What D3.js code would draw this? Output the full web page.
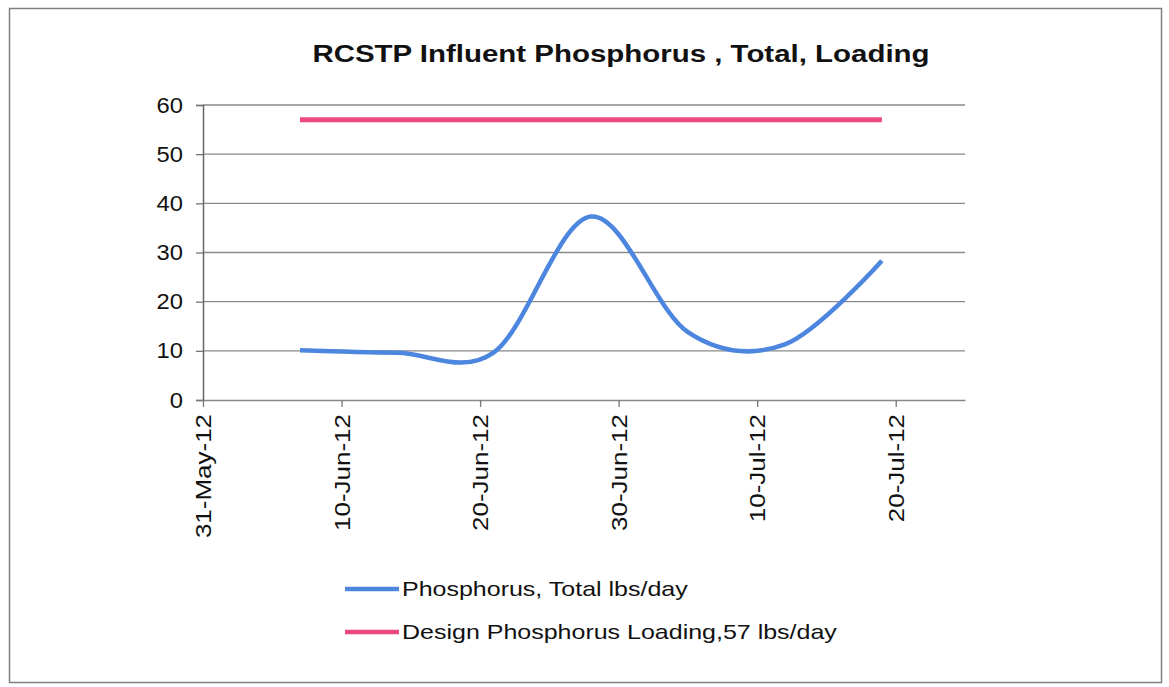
<!DOCTYPE html>
<html>
<head>
<meta charset="utf-8">
<script src="https://cdn.jsdelivr.net/npm/d3@7"></script>
<style>
  body { margin: 0; background: #fff; }
  text { font-family: "Liberation Sans", Arial, sans-serif; fill: #111; }
</style>
</head>
<body>
<div id="chart"></div>
<script>
// data
var dates = ["2012-06-07", "2012-06-14", "2012-06-21", "2012-06-28", "2012-07-05", "2012-07-12", "2012-07-19"];
var phosphorus = [10.1, 9.6, 9.7, 37.3, 13.8, 11.3, 28.3];
var designDates = ["2012-06-07", "2012-07-19"];
var designLoad = [57, 57];
var yTicks = [0, 10, 20, 30, 40, 50, 60];
var xTicks = ["2012-05-31", "2012-06-10", "2012-06-20", "2012-06-30", "2012-07-10", "2012-07-20"];
var legendLabels = ["Phosphorus, Total lbs/day", "Design Phosphorus Loading,57 lbs/day"];

var parse = d3.timeParse("%Y-%m-%d");
var fmt = d3.timeFormat("%-d-%b-%y");

var W = 1169, H = 687;
var margin = { top: 105, right: 204, bottom: 287, left: 203 },
    width = W - margin.left - margin.right,
    height = H - margin.top - margin.bottom;

// the scanned text is a bit wider than the font, stretch it
function stretch(sel, k) {
    sel.each(function () {
        var len = this.getComputedTextLength();
        d3.select(this)
            .attr("textLength", len * k)
            .attr("lengthAdjust", "spacingAndGlyphs");
    });
}

var svg = d3.select("#chart").append("svg")
    .attr("width", W)
    .attr("height", H);

// outer frame
svg.append("rect")
    .attr("x", 9.5).attr("y", 8.5)
    .attr("width", 1152).attr("height", 674)
    .attr("fill", "none")
    .attr("stroke", "#808080")
    .attr("stroke-width", 1.5);

svg.append("text")
    .attr("x", 621).attr("y", 62)
    .attr("text-anchor", "middle")
    .style("font-size", "23px")
    .style("font-weight", "bold")
    .text("RCSTP Influent Phosphorus , Total, Loading")
    .call(stretch, 1.28);

var g = svg.append("g")
    .attr("transform", "translate(" + margin.left + "," + margin.top + ")");

var x = d3.scaleTime()
    .domain([parse("2012-05-31"), parse("2012-07-25")])
    .range([0, width]);

var y = d3.scaleLinear()
    .domain([0, 60])
    .range([height, 0]);

// gridlines
g.append("g")
    .selectAll("line")
    .data(yTicks.slice(1))
    .enter()
    .append("line")
    .attr("x1", 0).attr("x2", width)
    .attr("y1", d => y(d)).attr("y2", d => y(d))
    .attr("stroke", "#8a8a8a")
    .attr("stroke-width", 1.3);

// y axis
var yAxis = g.append("g")
    .call(d3.axisLeft(y).tickValues(yTicks).tickSize(7).tickPadding(13));
yAxis.select(".domain").attr("stroke", "#666").attr("stroke-width", 1.5);
yAxis.selectAll(".tick line").attr("stroke", "#777").attr("stroke-width", 1.3);
yAxis.selectAll(".tick text")
    .style("font-size", "22px")
    .attr("fill", "#111")
    .call(stretch, 1.08);

// x axis
var xAxis = g.append("g")
    .attr("transform", "translate(0," + height + ")")
    .call(d3.axisBottom(x).tickValues(xTicks.map(parse)).tickFormat(fmt).tickSize(7).tickSizeOuter(0));
xAxis.select(".domain").attr("stroke", "#888").attr("stroke-width", 1.5);
xAxis.selectAll(".tick line").attr("stroke", "#777").attr("stroke-width", 1.3);
xAxis.selectAll(".tick text")
    .style("font-size", "22px")
    .attr("fill", "#111")
    .attr("text-anchor", "end")
    .attr("dy", "0.35em")
    .attr("transform", "translate(0,14) rotate(-90)")
    .attr("x", 0).attr("y", 0)
    .call(stretch, 1.18);

var phos = dates.map((d, i) => ({ date: parse(d), value: phosphorus[i] }));
var design = designDates.map((d, i) => ({ date: parse(d), value: designLoad[i] }));

var line = d3.line()
    .x(d => x(d.date))
    .y(d => y(d.value));

g.append("path")
    .datum(design)
    .attr("fill", "none")
    .attr("stroke", "#ec4a7e")
    .attr("stroke-width", 5)
    .attr("d", line);

g.append("path")
    .datum(phos)
    .attr("fill", "none")
    .attr("stroke", "#4c86de")
    .attr("stroke-width", 4.5)
    .attr("d", line.curve(d3.curveCardinal.tension(0)));

// legend
var legendColors = ["#4c86de", "#ec4a7e"];
var legend = svg.append("g")
    .selectAll("g")
    .data(legendLabels)
    .enter()
    .append("g")
    .attr("transform", (d, i) => "translate(345," + (589 + i * 43) + ")");
legend.append("line")
    .attr("x1", 0).attr("x2", 54)
    .attr("stroke", (d, i) => legendColors[i])
    .attr("stroke-width", 4.5);
legend.append("text")
    .attr("x", 57).attr("dy", "0.35em")
    .style("font-size", "21px")
    .text(d => d)
    .call(stretch, 1.19);
</script>
</body>
</html>
